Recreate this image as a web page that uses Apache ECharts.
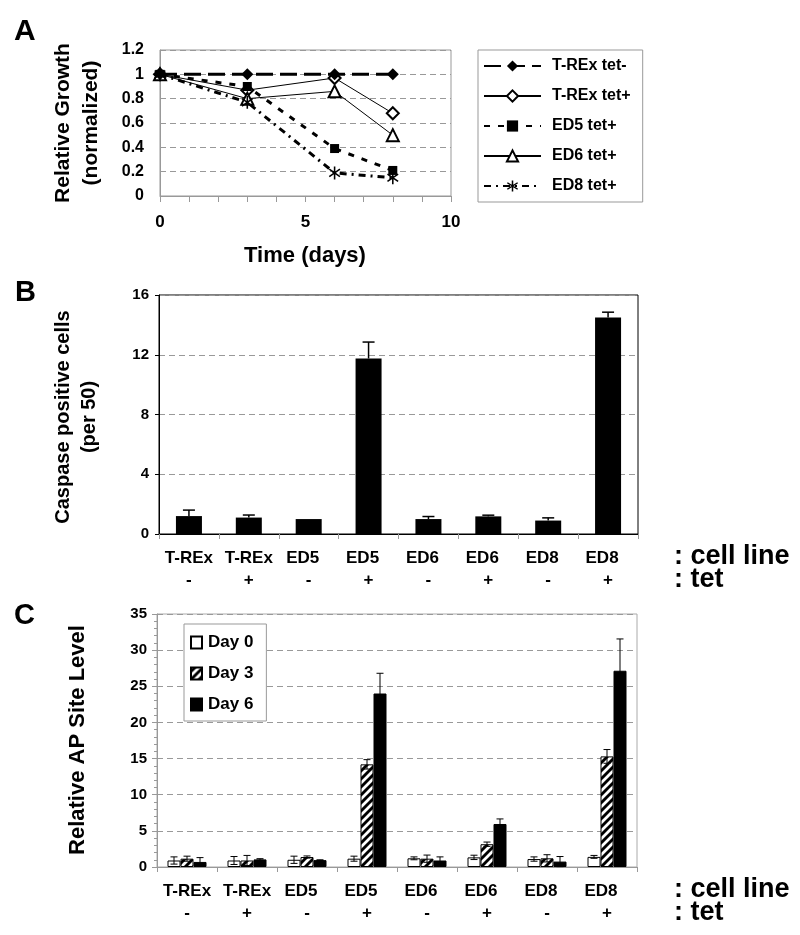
<!DOCTYPE html>
<html><head><meta charset="utf-8">
<script src="https://cdn.jsdelivr.net/npm/echarts@6/dist/echarts.min.js"></script>
<style>html,body{margin:0;padding:0;background:#fff}#chart{width:800px;height:935px}</style>
</head><body><div id="chart"></div>
<script>
const FONT = '"Liberation Sans", Arial, Helvetica, sans-serif';

// ---------- Panel A: relative growth ----------
const growthDays = [0, 3, 6, 8];
const growthNames = ['T-REx tet-', 'T-REx tet+', 'ED5 tet+', 'ED6 tet+', 'ED8 tet+'];
const growthTRExMinus = [1.0, 1.0, 1.0, 1.0];
const growthTRExPlus = [1.0, 0.87, 0.97, 0.68];
const growthED5Plus = [1.0, 0.90, 0.39, 0.21];
const growthED6Plus = [1.0, 0.80, 0.86, 0.50];
const growthED8Plus = [1.0, 0.77, 0.19, 0.15];
const growthXLabels = [0, 5, 10];

// ---------- Panels B & C: categories ----------
const cellLines = ['T-REx', 'T-REx', 'ED5', 'ED5', 'ED6', 'ED6', 'ED8', 'ED8'];
const tetStatus = ['-', '+', '-', '+', '-', '+', '-', '+'];

// ---------- Panel B: caspase positive cells ----------
const caspaseMean = [1.2, 1.1, 1.0, 11.75, 1.0, 1.18, 0.9, 14.5];
const caspaseErr  = [0.4, 0.17, 0.0, 1.1, 0.17, 0.08, 0.18, 0.35];

// ---------- Panel C: relative AP site level ----------
const apNames = ['Day 0', 'Day 3', 'Day 6'];
const apDay0 = [0.9, 0.9, 1.0, 1.15, 1.2, 1.33, 1.1, 1.4];
const apErr0 = [0.5, 0.55, 0.5, 0.35, 0.2, 0.3, 0.3, 0.2];
const apDay3 = [1.15, 0.9, 1.38, 14.2, 1.15, 3.15, 1.2, 15.3];
const apErr3 = [0.35, 0.7, 0.15, 0.65, 0.5, 0.3, 0.5, 0.95];
const apDay6 = [0.7, 1.05, 0.95, 24.0, 0.9, 5.95, 0.75, 27.15];
const apErr6 = [0.6, 0.1, 0.05, 2.8, 0.5, 0.7, 0.7, 4.4];

const catKeys = cellLines.map((c, i) => c + ' ' + tetStatus[i]);

// hatch pattern for Day 3
const hatch = document.createElement('canvas');
hatch.width = 8; hatch.height = 8;
(function () {
  const g = hatch.getContext('2d');
  g.fillStyle = '#000'; g.fillRect(0, 0, 8, 8);
  g.strokeStyle = '#fff'; g.lineWidth = 2.8; g.lineCap = 'square';
  g.beginPath();
  g.moveTo(-1, 9); g.lineTo(9, -1);
  g.moveTo(-3, 3); g.lineTo(3, -3);
  g.moveTo(5, 11); g.lineTo(11, 5);
  g.stroke();
})();

const asteriskPath = 'path://M-1.2,-10L1.2,-10L1.2,10L-1.2,10Z' +
  'M-8.88,-4.76L-7.5,-6.72L8.88,4.76L7.5,6.72Z' +
  'M-7.5,6.72L-8.88,4.76L7.5,-6.72L8.88,-4.76Z';

const boldText = (size) => ({ fontFamily: FONT, fontWeight: 'bold', fontSize: size, color: '#000' });

function zipXY(xs, ys) { return xs.map((x, i) => [x, ys[i]]); }

function errorSeries(gridIdx, means, errs, offset, both, cap, width) {
  return {
    type: 'custom',
    xAxisIndex: gridIdx, yAxisIndex: gridIdx,
    z: 5,
    silent: true,
    data: means.map((m, i) => [i, m + errs[i], m, errs[i]]),
    encode: { x: 0, y: 1 },
    renderItem: function (params, api) {
      const i = api.value(0);
      const m = api.value(2), e = api.value(3);
      if (!(e > 0)) return null;
      const top = api.coord([i, m + e]);
      const bot = api.coord([i, both ? m - e : m]);
      const x = top[0] + offset;
      const st = { stroke: '#000', lineWidth: width };
      const ch = [
        { type: 'line', shape: { x1: x, y1: top[1], x2: x, y2: bot[1] }, style: st },
        { type: 'line', shape: { x1: x - cap / 2, y1: top[1], x2: x + cap / 2, y2: top[1] }, style: st }
      ];
      if (both) ch.push({ type: 'line', shape: { x1: x - cap / 2, y1: bot[1], x2: x + cap / 2, y2: bot[1] }, style: st });
      return { type: 'group', children: ch };
    }
  };
}

function catAxis(gridIdx, lineColor, margin) {
  return {
    gridIndex: gridIdx, type: 'category', data: catKeys,
    axisLine: { lineStyle: { color: lineColor, width: 1 } },
    axisTick: { show: true, length: 5, lineStyle: { color: '#999' } },
    axisLabel: {
      interval: 0, margin: margin,
      formatter: function (v, idx) {
        const key = cellLines[idx].startsWith('ED') ? 'e' : 'c';
        return '{' + key + '|' + cellLines[idx] + '}\n{t|' + tetStatus[idx] + '}';
      },
      rich: {
        c: Object.assign(boldText(17), { lineHeight: 22 }),
        e: Object.assign(boldText(17), { lineHeight: 22, padding: [0, 12, 0, 0] }),
        t: Object.assign(boldText(17), { lineHeight: 22 })
      }
    },
    splitLine: { show: false }
  };
}

const dashedGrid = { show: true, lineStyle: { color: '#999', type: [6, 4], width: 1 } };

const option = {
  animation: false,
  backgroundColor: '#fff',
  grid: [
    { left: 160, top: 50, width: 291, height: 146, show: true, borderColor: '#999', borderWidth: 1 },
    { left: 159, top: 295, width: 479, height: 239, show: true, borderColor: '#000', borderWidth: 1 },
    { left: 157, top: 614, width: 480, height: 253, show: true, borderColor: '#aaa', borderWidth: 1 }
  ],
  xAxis: [
    {
      gridIndex: 0, type: 'value', min: 0, max: 10, interval: 1,
      axisLine: { lineStyle: { color: '#999' } },
      axisTick: { show: true, length: 6, lineStyle: { color: '#999' } },
      axisLabel: Object.assign(boldText(17), {
        margin: 18,
        formatter: v => growthXLabels.indexOf(v) >= 0 ? String(v) : ''
      }),
      splitLine: { show: false }
    },
    catAxis(1, '#000', 13),
    catAxis(2, '#999', 13)
  ],
  yAxis: [
    {
      gridIndex: 0, type: 'value', min: 0, max: 1.2, interval: 0.2,
      axisLine: { show: true, lineStyle: { color: '#999' } },
      axisTick: { show: false },
      axisLabel: Object.assign(boldText(16), { margin: 16, formatter: v => String(+v.toFixed(1)) }),
      splitLine: dashedGrid
    },
    {
      gridIndex: 1, type: 'value', min: 0, max: 16, interval: 4,
      axisLine: { show: true, lineStyle: { color: '#000' } },
      axisTick: { show: true, length: 4, lineStyle: { color: '#000' } },
      axisLabel: Object.assign(boldText(15), { margin: 10 }),
      splitLine: dashedGrid
    },
    {
      gridIndex: 2, type: 'value', min: 0, max: 35, interval: 5,
      axisLine: { show: true, lineStyle: { color: '#999' } },
      axisTick: { show: true, length: 5, lineStyle: { color: '#999' } },
      minorTick: { show: true, splitNumber: 5, length: 3, lineStyle: { color: '#999' } },
      axisLabel: Object.assign(boldText(15), { margin: 10 }),
      splitLine: dashedGrid
    }
  ],
  legend: [
    {
      data: growthNames, orient: 'vertical', left: 478, top: 50,
      padding: [8, 12, 8, 5], itemWidth: 57, itemHeight: 14, itemGap: 14,
      borderColor: '#999', borderWidth: 1, backgroundColor: '#fff',
      textStyle: Object.assign(boldText(16), { padding: [0, 0, 0, 6] })
    },
    {
      data: apNames, orient: 'vertical', left: 184, top: 624, icon: 'rect',
      padding: [10, 13, 8, 6], itemWidth: 11, itemHeight: 12, itemGap: 14,
      borderColor: '#999', borderWidth: 1, backgroundColor: '#fff',
      textStyle: Object.assign(boldText(17), { padding: [0, 0, 0, 1] })
    }
  ],
  series: [
    // Panel A
    {
      type: 'line', name: growthNames[0], xAxisIndex: 0, yAxisIndex: 0, z: 4,
      data: zipXY(growthDays, growthTRExMinus),
      symbol: 'diamond', symbolSize: 12,
      lineStyle: { color: '#000', width: 3, type: [17, 7] },
      itemStyle: { color: '#000' }
    },
    {
      type: 'line', name: growthNames[1], xAxisIndex: 0, yAxisIndex: 0, z: 3,
      data: zipXY(growthDays, growthTRExPlus),
      symbol: 'emptyDiamond', symbolSize: 12,
      lineStyle: { color: '#000', width: 1 },
      itemStyle: { color: '#000', borderWidth: 1 }
    },
    {
      type: 'line', name: growthNames[2], xAxisIndex: 0, yAxisIndex: 0, z: 3,
      data: zipXY(growthDays, growthED5Plus),
      symbol: 'rect', symbolSize: 9,
      lineStyle: { color: '#000', width: 3, type: [6, 8] },
      itemStyle: { color: '#000' }
    },
    {
      type: 'line', name: growthNames[3], xAxisIndex: 0, yAxisIndex: 0, z: 3,
      data: zipXY(growthDays, growthED6Plus),
      symbol: 'emptyTriangle', symbolSize: 12,
      lineStyle: { color: '#000', width: 1 },
      itemStyle: { color: '#000', borderWidth: 1 }
    },
    {
      type: 'line', name: growthNames[4], xAxisIndex: 0, yAxisIndex: 0, z: 3,
      data: zipXY(growthDays, growthED8Plus),
      symbol: asteriskPath, symbolSize: 13, symbolKeepAspect: true,
      lineStyle: { color: '#000', width: 3, type: [7, 5, 2, 5] },
      itemStyle: { color: '#000' }
    },
    // Panel B
    {
      type: 'bar', name: 'Caspase', xAxisIndex: 1, yAxisIndex: 1, barWidth: 26,
      data: caspaseMean, itemStyle: { color: '#000' }
    },
    errorSeries(1, caspaseMean, caspaseErr, 0, false, 12, 1.5),
    // Panel C
    {
      type: 'bar', name: apNames[0], xAxisIndex: 2, yAxisIndex: 2, barWidth: 13, barGap: '0%',
      data: apDay0, itemStyle: { color: '#fff', borderColor: '#000', borderWidth: 1 }
    },
    {
      type: 'bar', name: apNames[1], xAxisIndex: 2, yAxisIndex: 2, barWidth: 13, barGap: '0%',
      data: apDay3, itemStyle: { color: { image: hatch, repeat: 'repeat' }, borderColor: '#000', borderWidth: 1 }
    },
    {
      type: 'bar', name: apNames[2], xAxisIndex: 2, yAxisIndex: 2, barWidth: 13, barGap: '0%',
      data: apDay6, itemStyle: { color: '#000', borderColor: '#000', borderWidth: 1 }
    },
    errorSeries(2, apDay0, apErr0, -13, true, 7, 1),
    errorSeries(2, apDay3, apErr3, 0, true, 7, 1),
    errorSeries(2, apDay6, apErr6, 13, true, 7, 1)
  ],
  graphic: [
    { type: 'text', x: 14, y: 32, style: { text: 'A', fontFamily: FONT, fontWeight: 'bold', fontSize: 30, fill: '#000', align: 'left', verticalAlign: 'middle' } },
    { type: 'text', x: 15, y: 293, style: { text: 'B', fontFamily: FONT, fontWeight: 'bold', fontSize: 29, fill: '#000', align: 'left', verticalAlign: 'middle' } },
    { type: 'text', x: 14, y: 616, style: { text: 'C', fontFamily: FONT, fontWeight: 'bold', fontSize: 29, fill: '#000', align: 'left', verticalAlign: 'middle' } },
    { type: 'text', x: 77, y: 123, rotation: Math.PI / 2, style: { text: 'Relative Growth\n(normalized)', fontFamily: FONT, fontWeight: 'bold', fontSize: 21, lineHeight: 28, fill: '#000', align: 'center', verticalAlign: 'middle' } },
    { type: 'text', x: 305, y: 256, style: { text: 'Time (days)', fontFamily: FONT, fontWeight: 'bold', fontSize: 22, fill: '#000', align: 'center', verticalAlign: 'middle' } },
    { type: 'text', x: 76, y: 417, rotation: Math.PI / 2, style: { text: 'Caspase positive cells\n(per 50)', fontFamily: FONT, fontWeight: 'bold', fontSize: 20, lineHeight: 26, fill: '#000', align: 'center', verticalAlign: 'middle' } },
    { type: 'text', x: 78, y: 740, rotation: Math.PI / 2, style: { text: 'Relative AP Site Level', fontFamily: FONT, fontWeight: 'bold', fontSize: 22, fill: '#000', align: 'center', verticalAlign: 'middle' } },
    { type: 'text', x: 674, y: 557, style: { text: ': cell line', fontFamily: FONT, fontWeight: 'bold', fontSize: 27, fill: '#000', align: 'left', verticalAlign: 'middle' } },
    { type: 'text', x: 674, y: 580, style: { text: ': tet', fontFamily: FONT, fontWeight: 'bold', fontSize: 27, fill: '#000', align: 'left', verticalAlign: 'middle' } },
    { type: 'text', x: 674, y: 890, style: { text: ': cell line', fontFamily: FONT, fontWeight: 'bold', fontSize: 27, fill: '#000', align: 'left', verticalAlign: 'middle' } },
    { type: 'text', x: 674, y: 913, style: { text: ': tet', fontFamily: FONT, fontWeight: 'bold', fontSize: 27, fill: '#000', align: 'left', verticalAlign: 'middle' } }
  ]
};

const chart = echarts.init(document.getElementById('chart'), null, { renderer: 'canvas' });
chart.setOption(option);
</script>
</body></html>
